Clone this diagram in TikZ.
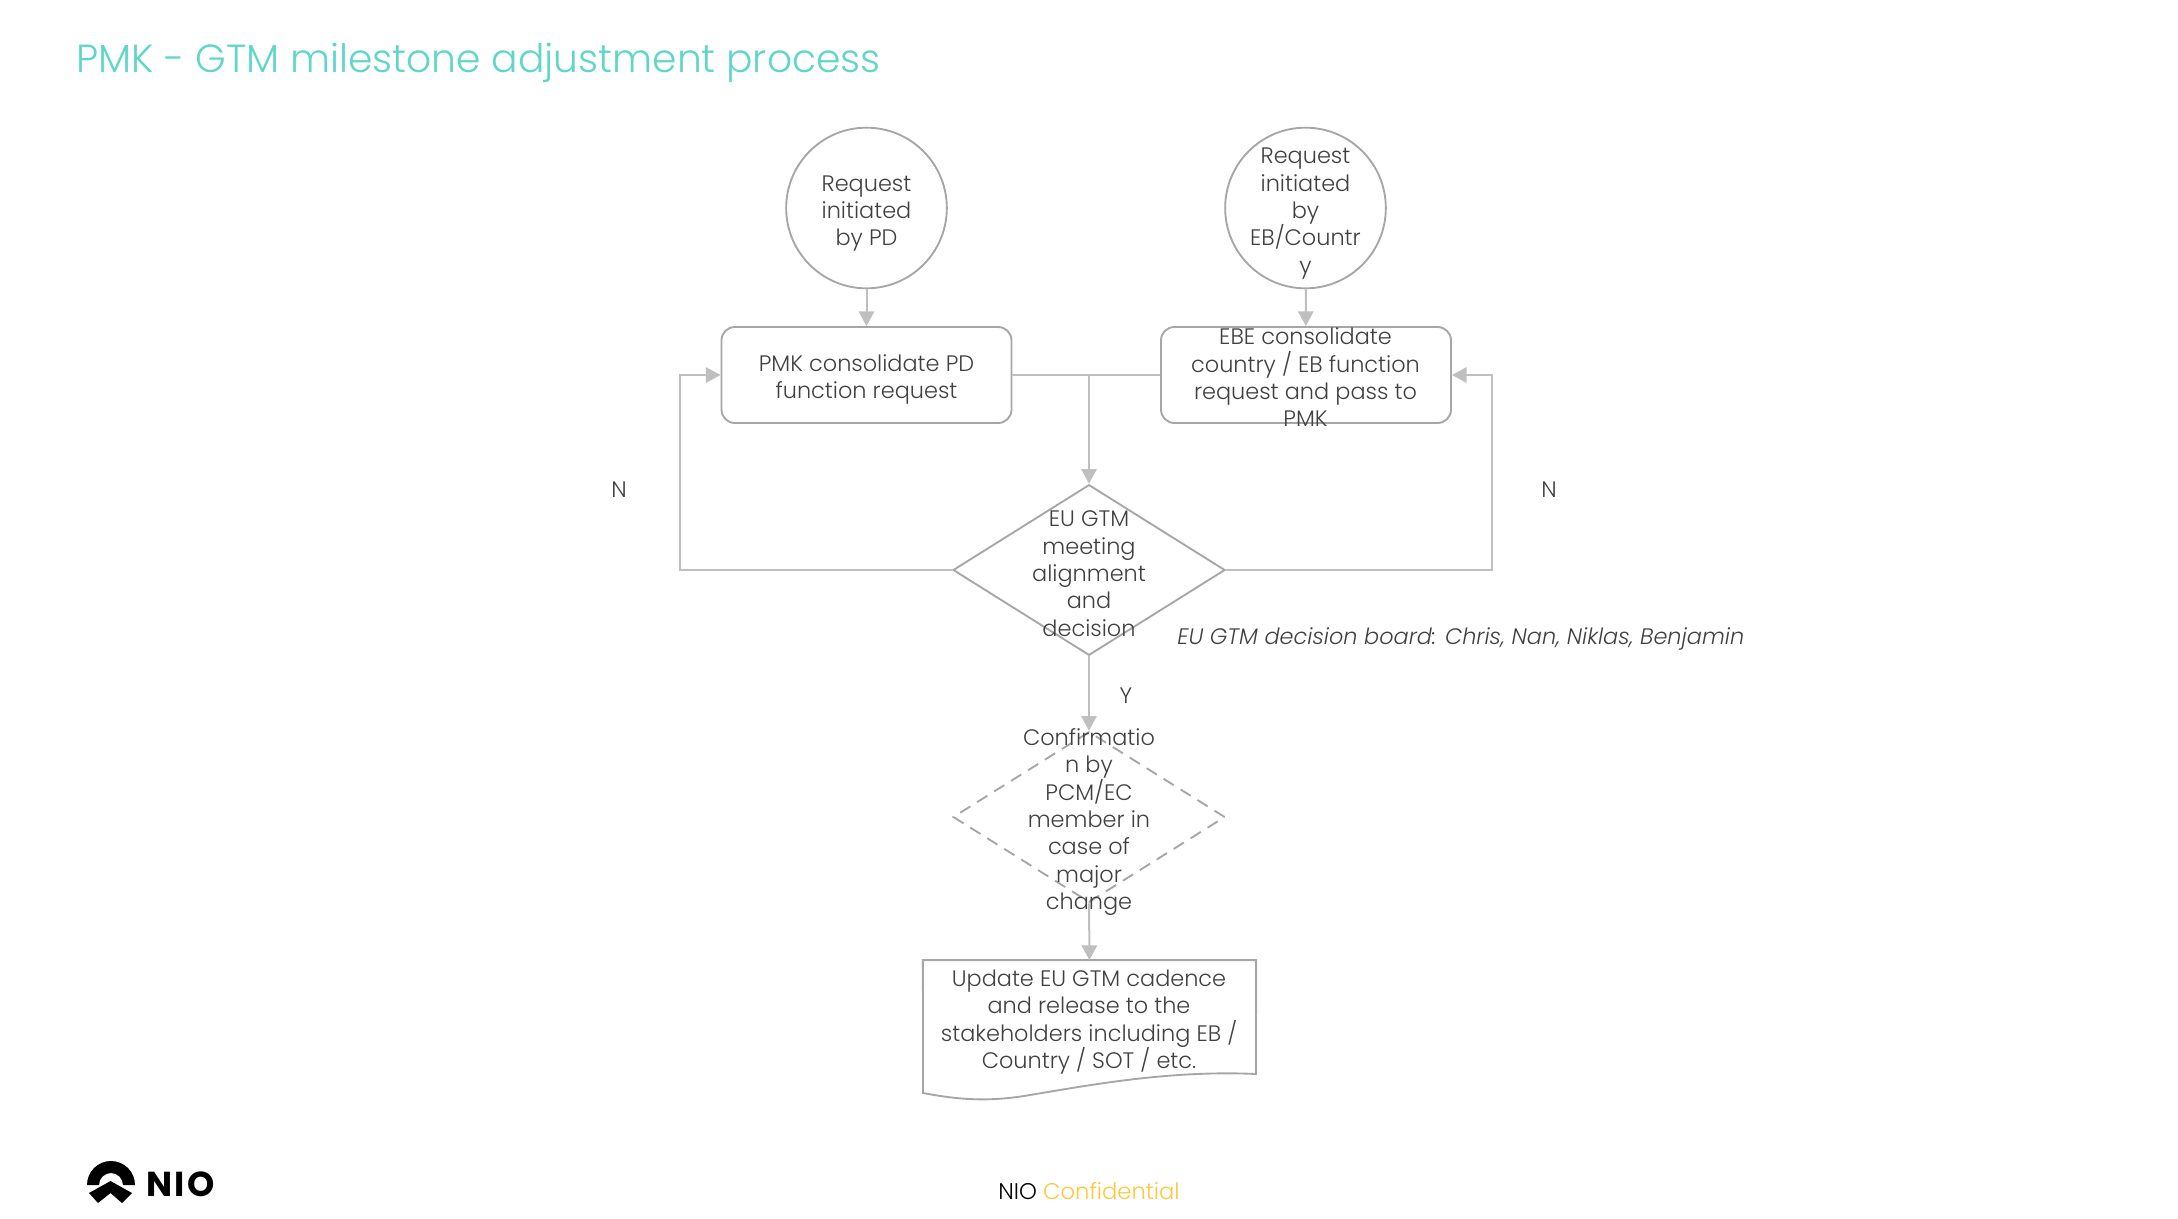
\documentclass[tikz,border=0pt]{standalone}
\usepackage{fontspec}
\setmainfont{Poppins Light}[ItalicFont={Poppins Light Italic},BoldFont={Poppins Bold}]
\usetikzlibrary{shapes.geometric,arrows.meta}
\definecolor{edgegrey}{HTML}{BFBFBF}
\definecolor{shapegrey}{HTML}{A6A6A6}
\definecolor{txtgrey}{HTML}{404040}
\definecolor{titleteal}{HTML}{5FD6C8}
\definecolor{confgold}{HTML}{FFC83C}
\tikzset{
  x=0.75pt,y=-0.75pt,
  bodyfont/.style={font=\fontsize{16.8}{20.5}\selectfont},
  body/.style={bodyfont,text=txtgrey,align=center,inner sep=0pt},
  circ/.style={circle,draw=shapegrey,line width=1.4pt,minimum size=120.5pt,inner sep=0pt},
  rbox/.style={rectangle,rounded corners=10pt,draw=shapegrey,line width=1.4pt,minimum width=217.5pt,minimum height=72pt,inner sep=0pt},
  dia/.style={diamond,draw=shapegrey,line width=1.4pt,minimum width=204pt,minimum height=128pt,inner sep=0pt,aspect=1.6},
  dashdia/.style={dia,dash pattern=on 9pt off 6pt},
  docanchor/.style={rectangle,minimum width=249.5pt,minimum height=85pt,inner sep=0pt},
  conn/.style={draw=edgegrey,line width=1.5pt,-{Triangle[length=11pt,width=11.5pt]}},
  plainconn/.style={draw=edgegrey,line width=1.5pt},
}
\begin{document}
\begin{tikzpicture}
\useasboundingbox (0,0) rectangle (2178,1218);
\node[anchor=west,font=\fontsize{29.4}{34}\selectfont,text=titleteal,inner sep=0pt] (title) at (76,63) {PMK - GTM milestone adjustment process};

\node[circ] (c1) at (866.5,208) {};
\node[circ] (c2) at (1305.5,208) {};
\node[rbox] (b1) at (866.5,375) {};
\node[rbox] (b2) at (1306,375) {};
\node[dia] (d1) at (1089,570) {};
\node[dashdia] (d2) at (1089,817) {};
\node[docanchor] (doc) at (1089.5,1017) {};
\coordinate (mid) at (1089,375);
\coordinate (loopL) at (680,570);
\coordinate (loopLt) at (680,375);
\coordinate (loopR) at (1492,570);
\coordinate (loopRt) at (1492,375);

\draw[draw=shapegrey,line width=1.4pt] (doc.north west) -- (doc.north east) -- (1256,1074) .. controls (1170,1070) and (1090,1085) .. (1030,1095) .. controls (990,1102) and (960,1100) .. (923,1093) -- cycle;

\node[body] (tc1) at (866.5,213.5) {Request\\initiated\\by PD};
\node[body] (tc2) at (1305.5,213.5) {Request\\initiated\\by\\EB/Countr\\y};
\node[body] (tb1) at (866.5,379.5) {PMK consolidate PD\\function request};
\node[body] (tb2) at (1305.5,377.5) {EBE consolidate\\country / EB function\\request and pass to\\PMK};
\node[body] (td1) at (1089,573.5) {EU GTM\\meeting\\alignment\\and\\decision};
\node[body] (td2) at (1089,822) {Confirmatio\\n by\\PCM/EC\\member in\\case of\\major\\change};
\node[body] (tdoc) at (1089,1022) {Update EU GTM cadence\\and release to the\\stakeholders including EB /\\Country / SOT / etc.};

\draw[conn] (c1) -- (b1);
\draw[conn] (c2) -- (b2);
\draw[plainconn] (b1.east) -- (b2.west);
\draw[conn] (mid) -- (d1.north);
\draw[conn] (d1.south) -- (d2.north);
\draw[conn] (d2.south) -- (doc.north);
\draw[conn] (d1.west) -- (loopL) -- (loopLt) -- (b1.west);
\draw[conn] (d1.east) -- (loopR) -- (loopRt) -- (b2.east);

\node[body] (nl) at (619,490) {N};
\node[body] (nr) at (1549,490) {N};
\node[body] (yl) at (1126,696) {Y};
\node[body,anchor=west] (board) at (1177,639) {\itshape EU GTM decision board: Chris, Nan, Niklas, Benjamin};

\fill[black] (87,1185) arc[start angle=180,end angle=360,radius=24] -- (123,1185) arc[start angle=360,end angle=180,radius=12] -- cycle;
\fill[black] (89,1193) -- (110.5,1181) -- (132,1193) -- (122,1203) -- (110.5,1193) -- (98,1203) -- cycle;
\node[anchor=west,inner sep=0pt,font=\fontsize{26}{30}\selectfont\bfseries\addfontfeature{LetterSpace=7}] (niotext) at (146,1184.5) {NIO};
\node[anchor=center,inner sep=0pt,font=\fontsize{17}{18}\selectfont] (foot) at (1089,1190.5) {NIO \textcolor{confgold}{Confidential}};
\end{tikzpicture}
\end{document}
